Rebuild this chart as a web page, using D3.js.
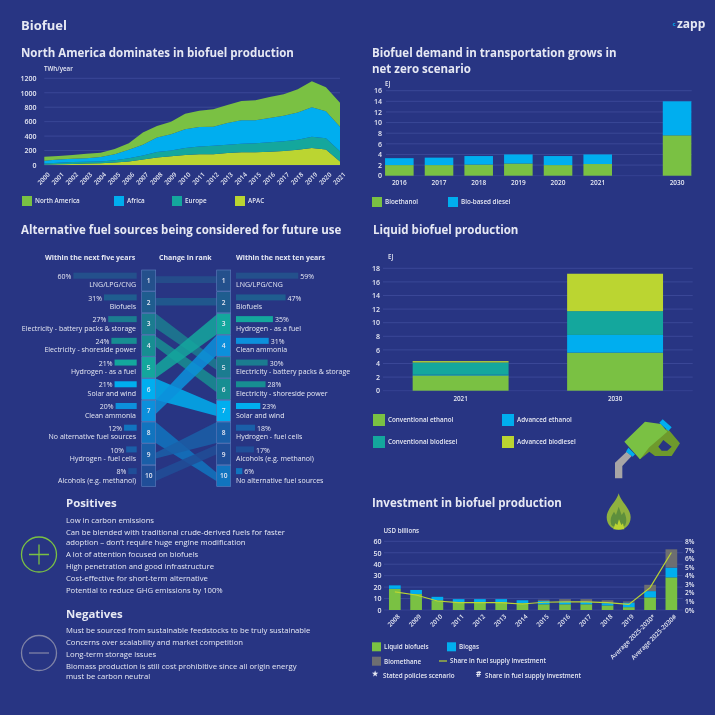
<!DOCTYPE html>
<html><head><meta charset="utf-8">
<script src="https://cdn.jsdelivr.net/npm/d3@7"></script>
<style>
html,body{margin:0;padding:0;background:#283583;}
svg{display:block;font-family:"Open Sans",sans-serif;filter:blur(.3px);}
text{fill:#e6e8f3;}
</style></head><body><svg id="c" width="715" height="715"></svg>
<script>
const BG="#283583",GREEN="#7AC143",BLUE="#00AEEF",TEAL="#14A79D",LIME="#BBD531",GREY="#6D6E71",GRID="#3F4C9C";

// Chart 1
const prodYears=["2000","2001","2002","2003","2004","2005","2006","2007","2008","2009","2010","2011","2012","2013","2014","2015","2016","2017","2018","2019","2020","2021"];
const prodApac=[5,10,15,20,25,35,50,75,105,120,140,150,150,165,175,175,185,195,210,235,215,50];
const prodEurope=[15,20,25,25,25,30,45,55,75,80,95,105,115,115,120,125,130,135,140,155,155,140];
const prodAfrica=[40,45,45,50,60,85,115,150,200,225,260,270,265,300,325,320,335,350,375,410,375,340];
const prodNorthAmerica=[55,50,55,60,60,70,90,170,160,175,215,225,240,250,265,275,290,300,325,360,330,330];
const prodTicks=[0,200,400,600,800,1000,1200];

// Chart 2
const demandCats=["2016","2017","2018","2019","2020","2021","","2030"];
const demandEthanol=[2.0,2.0,2.1,2.3,2.0,2.2,0,7.6];
const demandDiesel=[1.3,1.4,1.6,1.7,1.7,1.8,0,6.4];
const demandTicks=[0,2,4,6,8,10,12,14,16];

// Chart 3 (rank table)
const fiveNames=["LNG/LPG/CNG","Biofuels","Electricity - battery packs & storage","Electricity - shoreside power","Hydrogen - as a fuel","Solar and wind","Clean ammonia","No alternative fuel sources","Hydrogen - fuel cells","Alcohols (e.g. methanol)"];
const fiveValues=[60,31,27,24,21,21,20,12,10,8];
const tenNames=["LNG/LPG/CNG","Biofuels","Hydrogen - as a fuel","Clean ammonia","Electricity - battery packs & storage","Electricity - shoreside power","Solar and wind","Hydrogen - fuel cells","Alcohols (e.g. methanol)","No alternative fuel sources"];
const tenValues=[59,47,35,31,30,28,23,18,17,6];
const itemColors={"LNG/LPG/CNG":"#24508C","Biofuels":"#1F5D8F","Electricity - battery packs & storage":"#1B7C90","Electricity - shoreside power":"#178E92","Hydrogen - as a fuel":"#14A79D","Solar and wind":"#00AEEF","Clean ammonia":"#0C90DC","No alternative fuel sources":"#1174BF","Hydrogen - fuel cells":"#1A5FA8","Alcohols (e.g. methanol)":"#204E98"};
// ribbon thickness at each end, as fractions of a rank box: left top, left bottom, right top, right bottom
const ribbonEnds=[[.3,.62,.3,.62],[.3,.65,.3,.65],[0,.7,.15,.62],[.05,.55,0,.65],[.4,1,.05,1],[0,1,.2,.75],[0,.65,0,.95],[0,1,.35,.75],[.43,.7,0,1],[.28,.74,.05,.5]];

// Chart 4
const liquidCats=["2021","2030"];
const liqConvEthanol=[2.25,5.6];
const liqAdvEthanol=[0.1,2.6];
const liqConvBiodiesel=[1.8,3.5];
const liqAdvBiodiesel=[0.2,5.5];
const liquidTicks=[0,2,4,6,8,10,12,14,16,18];

// Chart 5
const investCats=["2008","2009","2010","2011","2012","2013","2014","2015","2016","2017","2018","2019","Average 2025-2030*","Average 2025-2030#"];
const invLiquid=[18.5,14,8.5,7,7,7,6,5,5,5,4,2.5,11,28.5];
const invBiogas=[3,3.5,3,2.5,2.5,2.5,2.5,3,2.5,2,2,4,5.5,8.5];
const invBiomethane=[0,0,0,0,0,0,0,1,2,2.5,2.5,1,5.5,16];
const invShare=[2.1,1.75,1.05,0.85,0.85,0.85,0.7,0.9,0.95,0.95,0.85,0.65,2.6,6.7];
const invTicks=[0,10,20,30,40,50,60];
const shareTicks=[0,1,2,3,4,5,6,7,8];

const positives=["Low in carbon emissions","Can be blended with traditional crude-derived fuels for faster","adoption – don’t require huge engine modification","A lot of attention focused on biofuels","High penetration and good infrastructure","Cost-effective for short-term alternative","Potential to reduce GHG emissions by 100%"];
const positiveY=[523,534.5,545,557,569,581,592.5];
const negatives=["Must be sourced from sustainable feedstocks to be truly sustainable","Concerns over scalability and market competition","Long-term storage issues","Biomass production is still cost prohibitive since all origin energy","must be carbon neutral"];
const negativeY=[633,645,657,668.5,679];

const svg=d3.select("#c");
svg.append("rect").attr("width",715).attr("height",715).attr("fill",BG);
const T=(x,y,s,size,weight,anchor)=>svg.append("text").attr("x",x).attr("y",y).text(s).attr("font-size",size).attr("font-weight",weight||400).attr("text-anchor",anchor||"start");
function axisY(scale,ticks,labelX,fmt,size){
  const g=svg.append("g").attr("transform",`translate(${labelX},0)`).call(d3.axisLeft(scale).tickValues(ticks).tickSize(0).tickPadding(0).tickFormat(fmt||(d=>d)));
  g.select(".domain").remove();
  g.selectAll("text").attr("font-size",size||7).attr("font-weight",600).attr("font-family","Open Sans");
  return g;
}
function grid(scale,ticks,x0,x1){
  svg.append("g").selectAll("line").data(ticks.filter(d=>d>0)).join("line").attr("x1",x0).attr("x2",x1).attr("y1",d=>scale(d)).attr("y2",d=>scale(d)).attr("stroke",GRID).attr("stroke-width",.8);
  svg.append("line").attr("x1",x0).attr("x2",x1).attr("y1",scale(0)).attr("y2",scale(0)).attr("stroke",GRID).attr("stroke-width",.6);
}
function legend(items){
  items.forEach(([x,y,c,s,w])=>{
    const sz=w||10;
    svg.append("rect").attr("x",x).attr("y",y).attr("width",sz).attr("height",sz).attr("fill",c);
    T(x+sz+3,y+sz/2+2.3,s,6.3,600);
  });
}

// Headers
T(21,30,"Biofuel",13,700);
svg.append("text").attr("x",672.5).attr("y",26).attr("font-size",6).attr("font-weight",700).style("fill",BLUE).text("c");
T(677,28,"zapp",12,700);
T(21,57,"North America dominates in biofuel production",11.5,700);
T(372,57,"Biofuel demand in transportation grows in",11.5,700);
T(372,73,"net zero scenario",11.5,700);
T(21,234,"Alternative fuel sources being considered for future use",11.5,700);
T(373,234,"Liquid biofuel production",11.5,700);
T(372,507,"Investment in biofuel production",11.5,700);

// Chart 1: stacked area
{
  const x=d3.scalePoint().domain(prodYears).range([44.3,340]);
  const y=d3.scaleLinear().domain([0,1200]).range([165,78.3]);
  grid(y,prodTicks,44.3,340);
  axisY(y,prodTicks,36.5);
  T(44,71,"TWh/year",6.2,600);
  const rows=prodYears.map((yr,i)=>({yr,apac:prodApac[i],europe:prodEurope[i],africa:prodAfrica[i],na:prodNorthAmerica[i]}));
  const st=d3.stack().keys(["apac","europe","africa","na"])(rows);
  const colors={apac:LIME,europe:TEAL,africa:BLUE,na:GREEN};
  const area=d3.area().x(d=>x(d.data.yr)).y0(d=>y(d[0])).y1(d=>y(d[1]));
  svg.append("g").selectAll("path").data(st).join("path").attr("d",area).attr("fill",d=>colors[d.key]);
  svg.append("g").selectAll("text").data(prodYears).join("text").attr("font-size",6.3).attr("font-weight",600).attr("text-anchor","end")
    .attr("transform",d=>`translate(${x(d)+2.5},171.5) rotate(-45)`).attr("dy",5).text(d=>d);
  legend([[22,196,GREEN,"North America"],[114,196,BLUE,"Africa"],[172,196,TEAL,"Europe"],[235,196,LIME,"APAC"]]);
}

// Chart 2
{
  const x=d3.scaleBand().domain(demandCats).range([379.5,696.9]).paddingInner(.28).paddingOuter(.14);
  const y=d3.scaleLinear().domain([0,16]).range([175.7,90.7]);
  grid(y,demandTicks,386,691.7);
  axisY(y,demandTicks,382);
  T(385,86,"EJ",6.2,600);
  const rows=demandCats.map((c,i)=>({c,a:demandEthanol[i],b:demandDiesel[i]})).filter(d=>d.c);
  const st=d3.stack().keys(["a","b"])(rows);
  const colr={a:GREEN,b:BLUE};
  svg.append("g").selectAll("g").data(st).join("g").attr("fill",d=>colr[d.key]).selectAll("rect").data(d=>d).join("rect")
    .attr("x",d=>x(d.data.c)).attr("width",x.bandwidth()).attr("y",d=>y(d[1])).attr("height",d=>y(d[0])-y(d[1]));
  svg.append("g").selectAll("text").data(demandCats.filter(d=>d)).join("text").attr("x",d=>x(d)+x.bandwidth()/2).attr("y",185).attr("text-anchor","middle").attr("font-size",6.5).attr("font-weight",600).text(d=>d);
  legend([[372,197,GREEN,"Bioethanol"],[448,197,BLUE,"Bio-based diesel"]]);
}

// Chart 3: rank slope
{
  const y=d3.scaleBand().domain(d3.range(1,11)).range([270,486.5]).paddingInner(.03).paddingOuter(0);
  const w=d3.scaleLinear().domain([0,60]).range([0,63.3]);
  const lx1=155.7,lx0=141.7,rx0=216.7;
  T(45,260,"Within the next five years",7,700);
  T(159,260,"Change in rank",7,700);
  T(236,260,"Within the next ten years",7,700);
  const rib=fiveNames.map((n,i)=>({n,a:i+1,b:tenNames.indexOf(n)+1,e:ribbonEnds[i]}));
  const bh=y.bandwidth();
  const ribbon=d=>{
    const p=d3.path();
    p.moveTo(lx1,y(d.a)+bh*d.e[0]);p.lineTo(rx0,y(d.b)+bh*d.e[2]);p.lineTo(rx0,y(d.b)+bh*d.e[3]);p.lineTo(lx1,y(d.a)+bh*d.e[1]);p.closePath();
    return p.toString();
  };
  svg.append("g").selectAll("path").data(rib).join("path").attr("d",ribbon).attr("fill",d=>itemColors[d.n]).attr("fill-opacity",.85);
  const box=(names,x0)=>{
    const g=svg.append("g").selectAll("g").data(names).join("g").attr("transform",(d,i)=>`translate(${x0},${y(i+1)})`);
    g.append("rect").attr("width",14).attr("height",bh).attr("fill",d=>itemColors[d]).attr("stroke","#5F7FBE").attr("stroke-width",.6);
    g.append("text").attr("x",7).attr("y",bh/2+2.5).attr("text-anchor","middle").attr("font-size",6.6).attr("font-weight",600).text((d,i)=>i+1);
  };
  box(fiveNames,lx0);box(tenNames,rx0);
  const L=svg.append("g").selectAll("g").data(fiveNames).join("g").attr("transform",(d,i)=>`translate(0,${y(i+1)})`);
  L.append("rect").attr("x",(d,i)=>136.7-w(fiveValues[i])).attr("y",2.7).attr("height",6).attr("width",(d,i)=>w(fiveValues[i])).attr("fill",d=>itemColors[d]);
  L.append("text").attr("x",(d,i)=>136.7-w(fiveValues[i])-2).attr("y",8.8).attr("text-anchor","end").attr("font-size",7).text((d,i)=>fiveValues[i]+"%");
  L.append("text").attr("x",136).attr("y",17.3).attr("text-anchor","end").attr("font-size",7).text(d=>d);
  const R=svg.append("g").selectAll("g").data(tenNames).join("g").attr("transform",(d,i)=>`translate(0,${y(i+1)})`);
  R.append("rect").attr("x",236).attr("y",2.7).attr("height",6).attr("width",(d,i)=>w(tenValues[i])).attr("fill",d=>itemColors[d]);
  R.append("text").attr("x",(d,i)=>236+w(tenValues[i])+2).attr("y",8.8).attr("font-size",7).text((d,i)=>tenValues[i]+"%");
  R.append("text").attr("x",236).attr("y",17.3).attr("font-size",7).text(d=>d);
}

// Chart 4
{
  const x=d3.scaleBand().domain(liquidCats).range([383,692.7]).paddingInner(.379).paddingOuter(.192);
  const y=d3.scaleLinear().domain([0,18]).range([390.7,268.3]);
  grid(y,liquidTicks,383,692.7);
  axisY(y,liquidTicks,380);
  T(388,259,"EJ",6.2,600);
  const rows=liquidCats.map((c,i)=>({c,a:liqConvEthanol[i],b:liqAdvEthanol[i],d:liqConvBiodiesel[i],e:liqAdvBiodiesel[i]}));
  const st=d3.stack().keys(["a","b","d","e"])(rows);
  const colr={a:GREEN,b:BLUE,d:TEAL,e:LIME};
  svg.append("g").selectAll("g").data(st).join("g").attr("fill",d=>colr[d.key]).selectAll("rect").data(d=>d).join("rect")
    .attr("x",d=>x(d.data.c)).attr("width",x.bandwidth()).attr("y",d=>y(d[1])).attr("height",d=>y(d[0])-y(d[1]));
  svg.append("g").selectAll("text").data(liquidCats).join("text").attr("x",d=>x(d)+x.bandwidth()/2).attr("y",400.5).attr("text-anchor","middle").attr("font-size",6.3).attr("font-weight",600).text(d=>d);
  legend([[373,414,GREEN,"Conventional ethanol",12],[502,414,BLUE,"Advanced ethanol",12],[373,436,TEAL,"Conventional biodiesel",12],[502,436,LIME,"Advanced biodiesel",12]]);
}

// Chart 5
{
  const x=d3.scaleBand().domain(investCats).range([384.2,682]).paddingInner(.45).paddingOuter(.225);
  const y=d3.scaleLinear().domain([0,60]).range([610,541.3]);
  const y2=d3.scaleLinear().domain([0,8]).range([610,541.3]);
  grid(y,invTicks,384,682.7);
  axisY(y,invTicks,381.5);
  const ra=svg.append("g").attr("transform","translate(685,0)").call(d3.axisRight(y2).tickValues(shareTicks).tickSize(0).tickPadding(0).tickFormat(d=>d+"%"));
  ra.select(".domain").remove();
  ra.selectAll("text").attr("font-size",6.6).attr("font-weight",600).attr("font-family","Open Sans");
  T(383.5,533,"USD billions",6.2,600);
  const rows=investCats.map((c,i)=>({c,a:invLiquid[i],b:invBiogas[i],d:invBiomethane[i]}));
  const st=d3.stack().keys(["a","b","d"])(rows);
  const colr={a:GREEN,b:BLUE,d:GREY};
  svg.append("g").selectAll("g").data(st).join("g").attr("fill",d=>colr[d.key]).selectAll("rect").data(d=>d).join("rect")
    .attr("x",d=>x(d.data.c)).attr("width",x.bandwidth()).attr("y",d=>y(d[1])).attr("height",d=>y(d[0])-y(d[1]));
  const line=d3.line().x((d,i)=>x(investCats[i])+x.bandwidth()/2).y(d=>y2(d));
  svg.append("path").attr("d",line(invShare)).attr("fill","none").attr("stroke",LIME).attr("stroke-width",1.2);
  svg.append("g").selectAll("text").data(investCats).join("text").attr("font-size",6.3).attr("font-weight",600).attr("text-anchor","end")
    .attr("transform",d=>`translate(${x(d)+x.bandwidth()/2+2},613.5) rotate(-45)`).attr("dy",5).text(d=>d);
  legend([[372,642.3,GREEN,"Liquid biofuels",9],[447,642.3,BLUE,"Biogas",9],[372,656.7,GREY,"Biomethane",9]]);
  svg.append("path").attr("d",d3.line()([[439,661],[447,661]])).attr("stroke",LIME).attr("stroke-width",1.2);
  T(450,663.3,"Share in fuel supply investment",6.3,600);
  T(372,676,"★",7,700);T(383,678,"Stated policies scenario",6.3,600);
  T(476,677,"#",8,700);T(485,678,"Share in fuel supply investment",6.3,600);
}

// Text blocks
T(66,507,"Positives",11.4,700);
positives.forEach((s,i)=>T(66,positiveY[i],s,7.7));
T(66,618,"Negatives",11.4,700);
negatives.forEach((s,i)=>T(66,negativeY[i],s,7.7));
const sign=(cx,cy,c,plus)=>{
  const g=svg.append("g").attr("fill","none").attr("stroke",c).attr("stroke-width",1.3);
  g.append("circle").attr("cx",cx).attr("cy",cy).attr("r",17.5);
  g.append("path").attr("d",`M${cx-10},${cy}H${cx+10}`+(plus?`M${cx},${cy-10}V${cy+10}`:""));
};
sign(39,554.5,GREEN,true);
sign(39,653,"#7F83A6",false);

// Icons (decoration)
{
  const g=svg.append("g").attr("transform","translate(590,410) scale(.3333)");
  g.append("path").attr("d","M75,205 L75,158 L110,125 L125,138 L97,168 L97,205Z").attr("fill","#A7A5A6");
  g.append("path").attr("d","M108,125 L115,113 L135,133 L128,140Z").attr("fill",BLUE);
  g.append("path").attr("fill-rule","evenodd").attr("fill","#6E9A2C").attr("d","M232,55 L270,100 L245,138 L195,138 L178,125 L150,148 L140,130 Z M205,110 L220,90 L245,110 L232,122 L215,122Z");
  g.append("path").attr("d","M103,95 L165,35 L213,42 L232,65 L178,112 L150,148Z").attr("fill",GREEN);
  g.append("path").attr("d","M208,38 L218,28 L245,52 L235,63Z").attr("fill",BLUE);
  g.append("path").attr("d","M86,250 C92,275 122,295 122,322 C122,345 104,360 86,360 C68,360 50,345 50,322 C50,295 80,275 86,250Z").attr("fill","#8FB13F");
  g.append("path").attr("d","M64,345 C58,325 66,315 72,305 L78,315 L86,290 L95,315 L102,305 C108,318 112,330 106,345 C100,354 72,354 64,345Z").attr("fill","#5E8F3C");
  g.append("path").attr("d","M70,358 L76,340 L82,345 L87,328 L94,345 L99,340 L103,358Z").attr("fill",LIME);
}
</script></body></html>
